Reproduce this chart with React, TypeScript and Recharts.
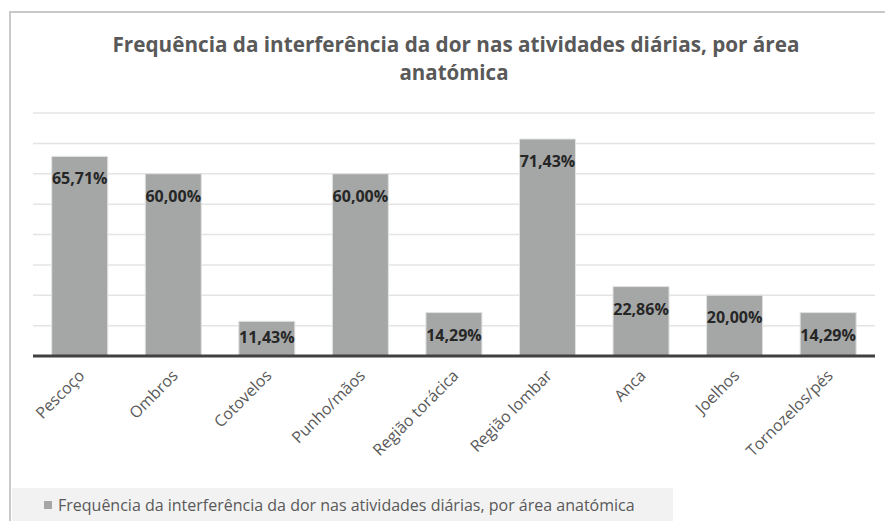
import React from 'react';
import { BarChart, Bar, XAxis, YAxis, CartesianGrid, Legend, LabelList } from 'recharts';

const CATEGORIES = [
  'Pescoço',
  'Ombros',
  'Cotovelos',
  'Punho/mãos',
  'Região torácica',
  'Região lombar',
  'Anca',
  'Joelhos',
  'Tornozelos/pés',
];
const VALUES = [65.71, 60.0, 11.43, 60.0, 14.29, 71.43, 22.86, 20.0, 14.29];
const Y_TICKS = [0, 10, 20, 30, 40, 50, 60, 70, 80];
const SERIES_NAME = 'Frequência da interferência da dor nas atividades diárias, por área anatómica';
const TITLE_LINES = ['Frequência da interferência da dor nas atividades diárias, por área', 'anatómica'];

const data = CATEGORIES.map((name, i) => ({ name, value: VALUES[i] }));

const FONT = '"Open Sans", sans-serif';
const BASELINE = 356;

const fmt = (v: number) => v.toFixed(2).replace('.', ',') + '%';

// rotated category labels, anchored at their end like in Excel
const AxisTick = (props: any) => {
  const { x, y, payload } = props;
  return (
    <g transform={`translate(${x},${y + 7})`}>
      <text
        transform="rotate(-45)"
        textAnchor="end"
        dy={8}
        fontSize={16}
        fill="#595959"
        fontFamily={FONT}
      >
        {payload.value}
      </text>
    </g>
  );
};

// value label sits inside the top of the bar, but not lower than just above the axis
const ValueLabel = (props: any) => {
  const { x, y, width, value } = props;
  const cy = Math.min(y + 22, BASELINE - 19);
  return (
    <text
      x={x + width / 2}
      y={cy}
      textAnchor="middle"
      dominantBaseline="central"
      fontSize={16}
      fontWeight={700}
      fill="#262626"
      fontFamily={FONT}
    >
      {fmt(value)}
    </text>
  );
};

const LegendBox = () => (
  <div
    style={{
      height: 33,
      background: '#f2f2f2',
      display: 'flex',
      alignItems: 'center',
      fontFamily: FONT,
      fontSize: 16,
      color: '#595959',
      paddingLeft: 32,
      boxSizing: 'border-box',
      whiteSpace: 'nowrap',
    }}
  >
    <span style={{ display: 'inline-block', width: 8, height: 8, background: '#a5a7a7', marginRight: 6 }} />
    {SERIES_NAME}
  </div>
);

export default function App() {
  return (
    <div style={{ position: 'absolute', left: 0, top: 0, width: 885, height: 521, background: '#fff', overflow: 'hidden' }}>
      {/* chart area border, runs off the right and bottom edges */}
      <div
        style={{
          position: 'absolute',
          left: 9,
          top: 11,
          width: 900,
          height: 540,
          border: '2px solid #c9c9c9',
          boxSizing: 'border-box',
        }}
      />
      <svg width={885} height={100} style={{ position: 'absolute', left: 0, top: 0 }}>
        <text
          x={456}
          y={52}
          textAnchor="middle"
          textLength={687}
          lengthAdjust="spacingAndGlyphs"
          fontSize={22}
          fontWeight={700}
          fill="#595959"
          fontFamily={FONT}
        >
          {TITLE_LINES[0]}
        </text>
        <text
          x={454}
          y={80}
          textAnchor="middle"
          textLength={109}
          lengthAdjust="spacingAndGlyphs"
          fontSize={22}
          fontWeight={700}
          fill="#595959"
          fontFamily={FONT}
        >
          {TITLE_LINES[1]}
        </text>
      </svg>
      <div style={{ position: 'absolute', left: 0, top: 0 }}>
        <BarChart
          width={885}
          height={521}
          data={data}
          margin={{ top: 113, right: 10, left: 33, bottom: 0 }}
          barCategoryGap="20%"
        >
          <CartesianGrid vertical={false} stroke="#e4e4e4" strokeWidth={1.5} />
          <YAxis hide domain={[0, 80]} ticks={Y_TICKS} />
          <XAxis
            dataKey="name"
            interval={0}
            height={132}
            tick={<AxisTick />}
            tickLine={false}
            axisLine={{ stroke: '#404040', strokeWidth: 3 }}
          />
          <Legend
            verticalAlign="bottom"
            align="left"
            height={33}
            content={<LegendBox />}
            wrapperStyle={{ left: 12, width: 661, bottom: 0 }}
          />
          <Bar
            dataKey="value"
            name={SERIES_NAME}
            fill="#a5a7a7"
            stroke="#e2e2e2"
            strokeWidth={1}
            isAnimationActive={false}
          >
            <LabelList dataKey="value" content={<ValueLabel />} />
          </Bar>
        </BarChart>
      </div>
    </div>
  );
}
